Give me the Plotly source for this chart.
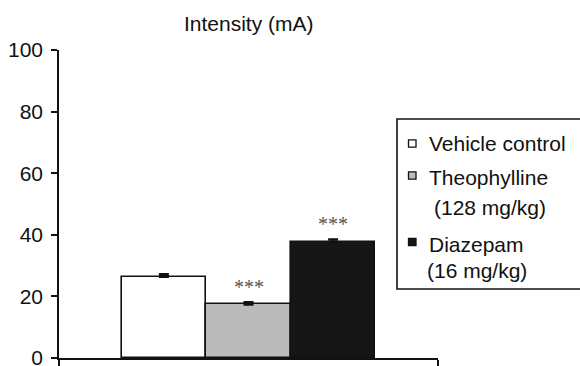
import plotly.graph_objects as go

# ---- data ----
categories = ["Vehicle control", "Theophylline (128 mg/kg)", "Diazepam (16 mg/kg)"]
values = [26.4, 17.4, 37.6]
errors = [0.8, 0.7, 0.9]
significance = ["", "***", "***"]
legend_line1 = ["Vehicle control", "Theophylline", "Diazepam"]
legend_line2 = ["", "(128 mg/kg)", "(16 mg/kg)"]
y_ticks = [0, 20, 40, 60, 80, 100]
title_text = "Intensity (mA)"

fills = ["#ffffff", "#bbbbbb", "#161616"]
FONT = "Liberation Sans, Arial, sans-serif"
FS = 21

W, H = 580, 366
L, R, T, B = 59, 142, 50, 8
pw, ph = W - L - R, H - T - B


def px_x(px):
    return (px - L) / pw


def px_y(py):
    return (H - B - py) / ph


xpos = list(range(len(categories)))
fig = go.Figure()
fig.add_trace(go.Bar(
    x=xpos, y=values, width=1.0,
    marker=dict(color=fills, line=dict(color="#111111", width=1.6)),
    error_y=dict(type="data", array=errors, arrayminus=[0] * len(errors),
                 symmetric=False, color="#111111", thickness=2.5, width=5),
    showlegend=False, hoverinfo="skip",
))

annotations = []
for i, s in enumerate(significance):
    if s:
        annotations.append(dict(
            x=xpos[i], y=values[i] + errors[i], xref="x", yref="y",
            text=s, showarrow=False, yanchor="bottom", yshift=2,
            font=dict(family="Liberation Serif, Times New Roman, serif", size=20, color="#555555"),
        ))

annotations.append(dict(
    x=1, y=px_y(23), xref="x", yref="paper", text=title_text, showarrow=False,
    xanchor="center", yanchor="middle", font=dict(family=FONT, size=FS, color="#111111"),
))

# legend (manual)
shapes = [dict(type="rect", xref="paper", yref="paper",
               x0=px_x(397), x1=px_x(600), y0=px_y(289), y1=px_y(119),
               line=dict(color="#111111", width=1.6), fillcolor="rgba(0,0,0,0)")]
sq_y = [143.5, 175.5, 242]
line1_y = [143, 177, 244]
line2_y = [None, 207, 270]
line2_x = [None, 432, 425]
for i in range(len(legend_line1)):
    shapes.append(dict(type="rect", xref="paper", yref="paper",
                       x0=px_x(408.5), x1=px_x(416), y0=px_y(sq_y[i] + 3.7), y1=px_y(sq_y[i] - 3.7),
                       line=dict(color="#111111", width=1.3), fillcolor=fills[i]))
    annotations.append(dict(x=px_x(427), y=px_y(line1_y[i]), xref="paper", yref="paper",
                            text=legend_line1[i], showarrow=False, xanchor="left", yanchor="middle",
                            font=dict(family=FONT, size=FS, color="#111111")))
    if legend_line2[i]:
        annotations.append(dict(x=px_x(line2_x[i]), y=px_y(line2_y[i]), xref="paper", yref="paper",
                                text=legend_line2[i], showarrow=False, xanchor="left", yanchor="middle",
                                font=dict(family=FONT, size=FS, color="#111111")))

x_lo = -1.24
x_hi = 3.24
fig.update_layout(
    width=W, height=H,
    margin=dict(l=L, r=R, t=T, b=B, pad=0, autoexpand=False),
    paper_bgcolor="white", plot_bgcolor="white",
    bargap=0,
    font=dict(family=FONT, size=FS, color="#111111"),
    xaxis=dict(range=[x_lo, x_hi], showgrid=False, zeroline=False, automargin=False,
               showline=True, linecolor="#111111", linewidth=1.6,
               tickmode="array", tickvals=[x_lo, x_hi], ticktext=["", ""],
               ticks="outside", ticklen=8, tickwidth=1.6, tickcolor="#111111"),
    yaxis=dict(range=[0, 100], showgrid=False, zeroline=False, automargin=False,
               showline=True, linecolor="#111111", linewidth=1.6,
               tickmode="array", tickvals=y_ticks, ticks="outside", ticklen=6,
               tickwidth=1.6, tickcolor="#111111", ticklabelstandoff=4,
               ticklabeloverflow="allow",
               tickfont=dict(family=FONT, size=FS, color="#111111")),
    shapes=shapes,
    annotations=annotations,
)

fig.write_html("out.html")
